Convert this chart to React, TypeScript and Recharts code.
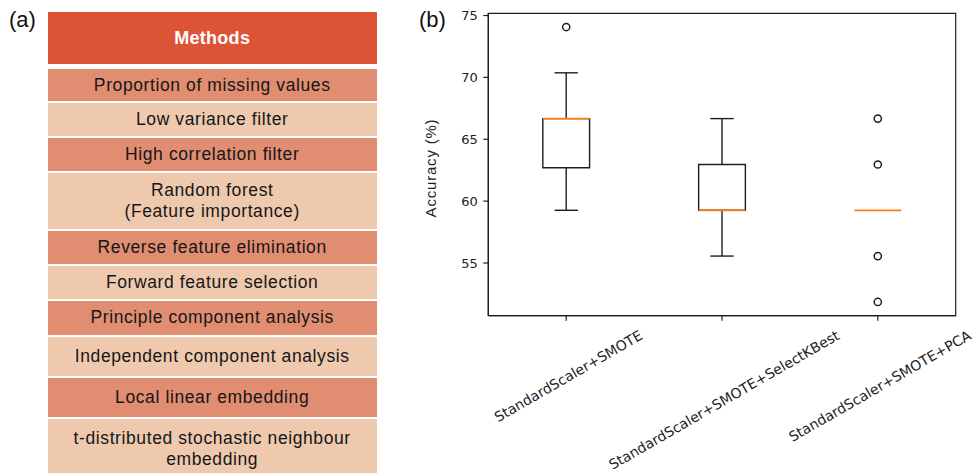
import { ComposedChart, XAxis, YAxis, Scatter, ReferenceArea, ReferenceLine } from 'recharts';

// (a) list of dimensionality-reduction methods
const methods = [
  'Proportion of missing values',
  'Low variance filter',
  'High correlation filter',
  'Random forest\n(Feature importance)',
  'Reverse feature elimination',
  'Forward feature selection',
  'Principle component analysis',
  'Independent component analysis',
  'Local linear embedding',
  't-distributed stochastic neighbour\nembedding',
];

// (b) accuracy of each pipeline, as box-plot statistics
const pipelines = [
  'StandardScaler+SMOTE',
  'StandardScaler+SMOTE+SelectKBest',
  'StandardScaler+SMOTE+PCA',
];
const whiskerLow = [59.26, 55.56, 59.26];
const q1 = [62.7, 59.26, 59.26];
const median = [66.67, 59.26, 59.26];
const q3 = [66.67, 62.96, 59.26];
const whiskerHigh = [70.37, 66.67, 59.26];
const outliers = [[74.07], [], [66.67, 62.96, 55.56, 51.85]];
const yTicks = [55, 60, 65, 70, 75];

// table layout
const rowHeights = [32, 32.7, 32.7, 56.3, 33, 33, 33.7, 39, 39.6, 60];
const HEADER = '#DD5336';
const DARK_ROW = '#E08D71';
const LIGHT_ROW = '#EEC9AE';

const BOX_HALF = 0.15;
const CAP_HALF = 0.075;
const INK = '#1e1e1e';
const MEDIAN = '#FF7F0E';
const TICK_FONT = 14;

const outlierPoints = outliers.flatMap((vals, i) => vals.map((v) => ({ x: i + 1, y: v })));

const allValues = [...whiskerLow, ...whiskerHigh, ...outliers.flat()];
const lo = Math.min(...allValues);
const hi = Math.max(...allValues);
const pad = (hi - lo) * 0.05;
const yDomain: [number, number] = [lo - pad, hi + pad];

let ctx: CanvasRenderingContext2D | null = null;
function textWidth(s: string) {
  if (!ctx) ctx = document.createElement('canvas').getContext('2d');
  if (!ctx) return s.length * 8.4;
  ctx.font = `${TICK_FONT}px 'DejaVu Sans'`;
  return ctx.measureText(s).width;
}

// rotated label whose bounding box is centred under the tick
function PipelineTick(props: any) {
  const { x, y, payload } = props;
  const label = pipelines[payload.value - 1];
  if (!label) return null;
  const w = textWidth(label);
  const px = x + (w * Math.cos(Math.PI / 6)) / 2 + 4.6;
  const py = y + 15.7;
  return (
    <text
      x={px}
      y={py}
      textAnchor="end"
      transform={`rotate(-30 ${px} ${py})`}
      fontSize={TICK_FONT}
      fontFamily="'DejaVu Sans', sans-serif"
      fill="#222"
    >
      {label}
    </text>
  );
}

function OutlierDot(props: any) {
  const { cx, cy } = props;
  return <circle cx={cx} cy={cy} r={3.6} fill="none" stroke={INK} strokeWidth={1.5} />;
}

function MethodsTable() {
  return (
    <div style={{ position: 'absolute', left: 47.7, top: 11.7, width: 329 }}>
      <div
        style={{
          height: 52.6,
          background: HEADER,
          color: '#fff',
          fontWeight: 700,
          fontSize: 18,
          display: 'flex',
          alignItems: 'center',
          justifyContent: 'center',
          letterSpacing: 0.3,
          paddingTop: 2,
          boxSizing: 'border-box',
        }}
      >
        Methods
      </div>
      <div style={{ display: 'flex', flexDirection: 'column', gap: 2, marginTop: 5 }}>
        {methods.map((m, i) => (
          <div
            key={m}
            style={{
              height: rowHeights[i],
              background: i % 2 === 0 ? DARK_ROW : LIGHT_ROW,
              display: 'flex',
              flexDirection: 'column',
              alignItems: 'center',
              justifyContent: 'center',
              fontSize: 17.5,
              letterSpacing: 0.6,
              lineHeight: '21px',
              color: '#161616',
              textAlign: 'center',
            }}
          >
            {m.split('\n').map((line) => (
              <div key={line}>{line}</div>
            ))}
          </div>
        ))}
      </div>
    </div>
  );
}

export default function App() {
  return (
    <div
      style={{
        position: 'absolute',
        left: 0,
        top: 0,
        width: 973,
        height: 473,
        overflow: 'hidden',
        background: '#fff',
        fontFamily: "'Liberation Sans', Arial, sans-serif",
      }}
    >
      <div style={{ position: 'absolute', left: 9, top: 7, fontSize: 22, color: '#111' }}>(a)</div>
      <MethodsTable />

      <div style={{ position: 'absolute', left: 419, top: 7, fontSize: 22, color: '#111' }}>(b)</div>
      <div
        style={{
          position: 'absolute',
          left: 430,
          top: 168,
          transform: 'translate(-50%, -50%) rotate(-90deg)',
          whiteSpace: 'nowrap',
          fontSize: 15,
          letterSpacing: 0.8,
          color: '#222',
        }}
      >
        Accuracy (%)
      </div>

      <div style={{ position: 'absolute', left: 400, top: 0 }}>
        <ComposedChart width={573} height={473} margin={{ top: 13.3, right: 17.3, bottom: 0, left: 0 }}>
          <XAxis
            type="number"
            dataKey="x"
            domain={[0.5, 3.5]}
            ticks={[1, 2, 3]}
            allowDataOverflow
            height={157.3}
            tickSize={5}
            tick={<PipelineTick />}
            tickLine={{ stroke: INK, strokeWidth: 1.2 }}
            axisLine={{ stroke: INK, strokeWidth: 1.2 }}
          />
          <YAxis
            type="number"
            dataKey="y"
            domain={yDomain}
            ticks={yTicks}
            allowDataOverflow
            width={88.3}
            tickSize={5}
            tickMargin={5.5}
            tick={{ fontSize: 13, fontFamily: "'DejaVu Sans', sans-serif", fill: '#222' }}
            tickLine={{ stroke: INK, strokeWidth: 1.2 }}
            axisLine={{ stroke: INK, strokeWidth: 1.2 }}
          />
          {/* frame around the plot area */}
          <ReferenceArea
            x1={0.5}
            x2={3.5}
            y1={yDomain[0]}
            y2={yDomain[1]}
            fill="none"
            fillOpacity={0}
            stroke={INK}
            strokeWidth={1.2}
            ifOverflow="visible"
          />
          {pipelines.map((p, i) => {
            const x = i + 1;
            const parts = [];
            // whiskers of zero length (and their caps) sit under the median line, so skip them
            if (whiskerLow[i] < q1[i]) {
              parts.push(
                <ReferenceLine
                  key={`wl-${p}`}
                  segment={[{ x, y: whiskerLow[i] }, { x, y: q1[i] }]}
                  stroke={INK}
                  strokeWidth={1.4}
                  ifOverflow="visible"
                />,
                <ReferenceLine
                  key={`cl-${p}`}
                  segment={[{ x: x - CAP_HALF, y: whiskerLow[i] }, { x: x + CAP_HALF, y: whiskerLow[i] }]}
                  stroke={INK}
                  strokeWidth={1.4}
                  ifOverflow="visible"
                />
              );
            }
            if (whiskerHigh[i] > q3[i]) {
              parts.push(
                <ReferenceLine
                  key={`wh-${p}`}
                  segment={[{ x, y: q3[i] }, { x, y: whiskerHigh[i] }]}
                  stroke={INK}
                  strokeWidth={1.4}
                  ifOverflow="visible"
                />,
                <ReferenceLine
                  key={`ch-${p}`}
                  segment={[{ x: x - CAP_HALF, y: whiskerHigh[i] }, { x: x + CAP_HALF, y: whiskerHigh[i] }]}
                  stroke={INK}
                  strokeWidth={1.4}
                  ifOverflow="visible"
                />
              );
            }
            if (q3[i] > q1[i]) {
              parts.push(
                <ReferenceArea
                  key={`box-${p}`}
                  x1={x - BOX_HALF}
                  x2={x + BOX_HALF}
                  y1={q1[i]}
                  y2={q3[i]}
                  fill="none"
                  fillOpacity={0}
                  stroke={INK}
                  strokeWidth={1.4}
                  ifOverflow="visible"
                />
              );
            }
            parts.push(
              <ReferenceLine
                key={`med-${p}`}
                segment={[{ x: x - BOX_HALF, y: median[i] }, { x: x + BOX_HALF, y: median[i] }]}
                stroke={MEDIAN}
                strokeWidth={1.8}
                ifOverflow="visible"
              />
            );
            return parts;
          })}
          <Scatter data={outlierPoints} dataKey="y" shape={<OutlierDot />} isAnimationActive={false} />
        </ComposedChart>
      </div>
    </div>
  );
}
